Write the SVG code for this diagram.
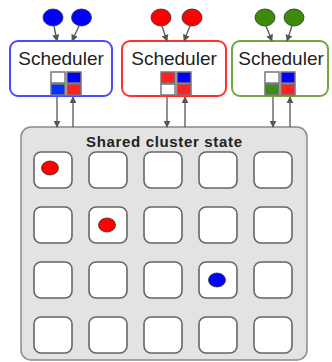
<svg xmlns="http://www.w3.org/2000/svg" width="332" height="362" viewBox="0 0 332 362">
  <style>
    .sched { fill: #ffffff; stroke-width: 2; }
    .label { font-family: "Liberation Sans", Arial, sans-serif; font-size: 19px; fill: #222; text-anchor: middle; }
    .title { font-family: "Liberation Sans", Arial, sans-serif; font-size: 15px; font-weight: bold; fill: #222; text-anchor: middle; }
    .mini { stroke: #777; stroke-width: 1.5; }
    .cell { fill: #ffffff; stroke: #666; stroke-width: 1.6; }
    .task { stroke: #333; stroke-width: 0.8; }
    .conn { stroke: #555; stroke-width: 1.3; fill: none; marker-end: url(#arrow); }
  </style>
  <defs>
    <marker id="arrow" viewBox="0 0 10 10" refX="9" refY="5" markerWidth="7" markerHeight="7" markerUnits="userSpaceOnUse" orient="auto">
      <path d="M0,0 L10,5 L0,10 z" fill="#555"/>
    </marker>
  </defs>

  <!-- shared cluster state -->
  <g id="shared-state">
    <rect x="21" y="127" width="286" height="233" rx="10" fill="#e3e3e3" stroke="#8a8a8a" stroke-width="1.5"/>
    <text class="title" x="164" y="147" textLength="156" lengthAdjust="spacing">Shared cluster state</text>
  </g>

  <!-- machines grid -->
  <g id="machines">
    <rect class="cell" x="34" y="152" width="38" height="36" rx="7"/>
    <rect class="cell" x="89" y="152" width="38" height="36" rx="7"/>
    <rect class="cell" x="144" y="152" width="38" height="36" rx="7"/>
    <rect class="cell" x="199" y="152" width="38" height="36" rx="7"/>
    <rect class="cell" x="254" y="152" width="38" height="36" rx="7"/>

    <rect class="cell" x="34" y="207" width="38" height="36" rx="7"/>
    <rect class="cell" x="89" y="207" width="38" height="36" rx="7"/>
    <rect class="cell" x="144" y="207" width="38" height="36" rx="7"/>
    <rect class="cell" x="199" y="207" width="38" height="36" rx="7"/>
    <rect class="cell" x="254" y="207" width="38" height="36" rx="7"/>

    <rect class="cell" x="34" y="262" width="38" height="36" rx="7"/>
    <rect class="cell" x="89" y="262" width="38" height="36" rx="7"/>
    <rect class="cell" x="144" y="262" width="38" height="36" rx="7"/>
    <rect class="cell" x="199" y="262" width="38" height="36" rx="7"/>
    <rect class="cell" x="254" y="262" width="38" height="36" rx="7"/>

    <rect class="cell" x="34" y="317" width="38" height="36" rx="7"/>
    <rect class="cell" x="89" y="317" width="38" height="36" rx="7"/>
    <rect class="cell" x="144" y="317" width="38" height="36" rx="7"/>
    <rect class="cell" x="199" y="317" width="38" height="36" rx="7"/>
    <rect class="cell" x="254" y="317" width="38" height="36" rx="7"/>

    <!-- placed tasks -->
    <ellipse class="task" cx="50" cy="168" rx="8.5" ry="7" fill="#ff0000"/>
    <ellipse class="task" cx="107" cy="225" rx="8.5" ry="7" fill="#ff0000"/>
    <ellipse class="task" cx="217" cy="280" rx="8.5" ry="7" fill="#0000ff"/>
  </g>

  <!-- blue scheduler -->
  <g id="scheduler-blue">
    <rect class="sched" x="10" y="41" width="102" height="55" rx="8" stroke="#4a4aff"/>
    <text class="label" x="61" y="65">Scheduler</text>
    <rect class="mini" x="51" y="72" width="14" height="11" fill="#ffffff"/>
    <rect class="mini" x="67" y="72" width="14" height="11" fill="#0000ff"/>
    <rect class="mini" x="51" y="84" width="14" height="11" fill="#0033ff"/>
    <rect class="mini" x="67" y="84" width="14" height="11" fill="#ff2020"/>
  </g>
  <g id="jobs-blue">
    <ellipse class="task" cx="53" cy="17.5" rx="10" ry="8.5" fill="#0000ff"/>
    <ellipse class="task" cx="81.5" cy="17.5" rx="10" ry="8.5" fill="#0000ff"/>
  </g>

  <!-- red scheduler -->
  <g id="scheduler-red">
    <rect class="sched" x="122" y="41" width="104" height="55" rx="8" stroke="#ff3030"/>
    <text class="label" x="174" y="65">Scheduler</text>
    <rect class="mini" x="161" y="72" width="14" height="11" fill="#ff2020"/>
    <rect class="mini" x="177" y="72" width="14" height="11" fill="#0000ff"/>
    <rect class="mini" x="161" y="84" width="14" height="11" fill="#ffffff"/>
    <rect class="mini" x="177" y="84" width="14" height="11" fill="#ff2020"/>
  </g>
  <g id="jobs-red">
    <ellipse class="task" cx="161" cy="17.5" rx="10" ry="8.5" fill="#ff0000"/>
    <ellipse class="task" cx="192" cy="17.5" rx="10" ry="8.5" fill="#ff0000"/>
  </g>

  <!-- green scheduler -->
  <g id="scheduler-green">
    <rect class="sched" x="232" y="41" width="96" height="55" rx="8" stroke="#6fa83c"/>
    <text class="label" x="281" y="65">Scheduler</text>
    <rect class="mini" x="265" y="72" width="14" height="11" fill="#ffffff"/>
    <rect class="mini" x="281" y="72" width="14" height="11" fill="#0000ff"/>
    <rect class="mini" x="265" y="84" width="14" height="11" fill="#3d8a1a"/>
    <rect class="mini" x="281" y="84" width="14" height="11" fill="#ff2020"/>
  </g>
  <g id="jobs-green">
    <ellipse class="task" cx="265" cy="17.5" rx="10" ry="8.5" fill="#3f8a0a"/>
    <ellipse class="task" cx="294" cy="17.5" rx="10" ry="8.5" fill="#3f8a0a"/>
  </g>

  <!-- connectors -->
  <g id="connectors">
    <!-- jobs into schedulers -->
    <line class="conn" x1="54" y1="26" x2="57" y2="41"/>
    <line class="conn" x1="79" y1="26" x2="72" y2="41"/>
    <line class="conn" x1="162" y1="26" x2="167" y2="41"/>
    <line class="conn" x1="190" y1="26" x2="184" y2="41"/>
    <line class="conn" x1="266" y1="26" x2="272" y2="41"/>
    <line class="conn" x1="292" y1="26" x2="287" y2="41"/>
    <!-- schedulers to/from shared state -->
    <line class="conn" x1="57" y1="97" x2="57" y2="127"/>
    <line class="conn" x1="73" y1="127" x2="73" y2="97"/>
    <line class="conn" x1="167" y1="97" x2="167" y2="127"/>
    <line class="conn" x1="185" y1="127" x2="185" y2="97"/>
    <line class="conn" x1="273" y1="97" x2="273" y2="127"/>
    <line class="conn" x1="290" y1="127" x2="290" y2="97"/>
  </g>
</svg>
